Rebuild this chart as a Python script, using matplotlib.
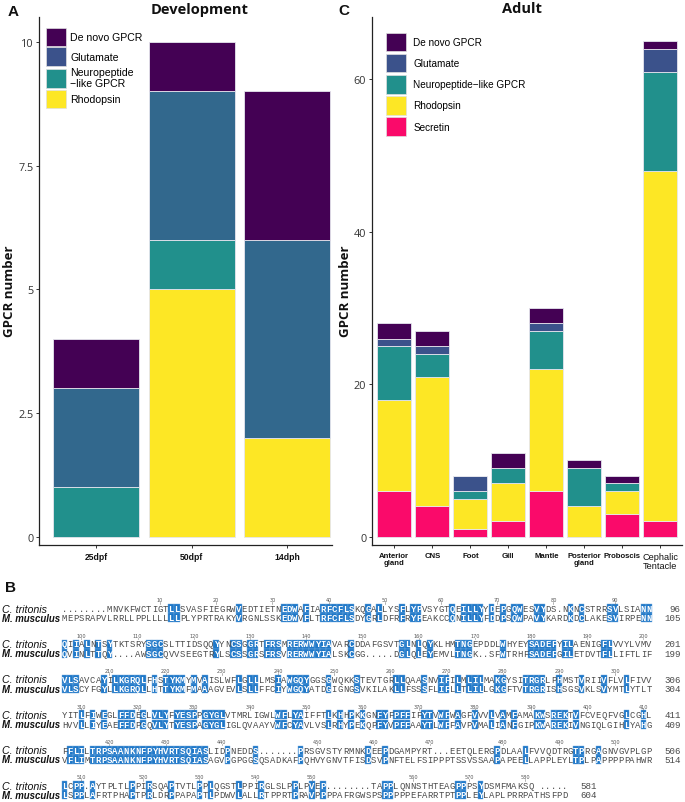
import matplotlib
matplotlib.use('Agg')
import matplotlib.pyplot as plt
from matplotlib.patches import Patch, Rectangle
import numpy as np

W, H, DPI = 685, 803, 100

# ---------------- Panel A data (Development) ----------------
dev_stages = ['25dpf', '50dpf', '14dph']
dev_rhodopsin = [0, 5, 2]
dev_neuropeptide = [1, 1, 0]
dev_glutamate = [2, 3, 4]
dev_denovo = [1, 1, 3]
dev_yticks = [0, 2.5, 5, 7.5, 10]
dev_yticklabels = ['0', '2.5', '5', '7.5', '10']
dev_legend = ['De novo GPCR', 'Glutamate', 'Neuropeptide\n\u2212like GPCR', 'Rhodopsin']

# ---------------- Panel C data (Adult) ----------------
tissues = ['Anterior\ngland', 'CNS', 'Foot', 'Gill', 'Mantle',
           'Posterior\ngland', 'Proboscis', 'Cephalic\nTentacle']
adult_secretin = [6, 4, 1, 2, 6, 0, 3, 2]
adult_rhodopsin = [12, 17, 4, 5, 16, 4, 3, 46]
adult_neuropeptide = [7, 3, 1, 2, 5, 5, 1, 13]
adult_glutamate = [1, 1, 2, 0, 1, 0, 0, 3]
adult_denovo = [2, 2, 0, 2, 2, 1, 1, 1]
adult_yticks = [0, 20, 40, 60]
adult_legend = ['De novo GPCR', 'Glutamate', 'Neuropeptide\u2212like GPCR', 'Rhodopsin', 'Secretin']

# ---------------- Panel B data (alignment) ----------------
species = ['C. tritonis', 'M. musculus']
ct_blocks = [
    "........MNVKFWCTIGTLLSVASFIEGRWVEDTIETNEDWAFIARFCFLSKQGALLYSFLYPVSYGTQEILLYYDEPGQWESVYDS.NKNCSTRRSVLSIANN",
    "QIIALNTSYTKTSRYSGCSLTTIDSQQYYNCSGGRTFRSMRERWWYIAVARCDDAFGSVTGLNLQYKLHMTNGEPDDLWHYEYSADEFYILAENIGFLVVYLVMV",
    "VLSAVCAYILKGRQLFHSTYKMYMVAISLWFLGLLLMSIAWGQYGGSGWQKKSTEVTGRLLQAASNVIFILMLILMAKGYSITRGRLPHMSTVRIIVFLVLFIVV",
    "YITLFIWEGLFFDEGLVLYFYESPPGYGLVTMRLIGWLWFLYAIFFTLKHHPKKGNFYFPFFIFYTVWFWAGFVVVLVAMFAMAKWSREKTVFCVEQFVGLCGHL",
    "FFLILTRPSAANKNFPYHVRTSQIASLIDPNEDDS.......PRSGVSTYRMNKDEEPDGAMPYRT...EETQLERGPDLAALFVVQDTRGTPRGAGNVGVPLGP",
    "LCPP.AYTPLTLPPIRSQAPTVTLPPLQGSTLPPIRGLSLPPLPVEP........TAPPLQNNSTHTEAGPPPSYDSMFMAKSQ .....",
]
mm_blocks = [
    "MEPSRAPVLRRLLPPLLLLLLPLYPRTRAKYVRGNLSSKEDWVFLTRFCFLSDYGRLDFRFRYPEAKCCQNILLYFDDPSQWPAVYKARDKDCLAKESVIRPENN",
    "QVINLTTQY....AWSGCQVVSEEGTRYLSCSSGRSFRSVRERWWYIALSKCGG.....DGLQLEYEMVLTNGK..SFWTRHFSADEFGILETDVTFLLIFTLIF",
    "VLSCYFGYLLKGRQLLHTTYKMFMAAAGVEVLSLLFFCIYWGQYATDGIGNGSVKILAKLLFSSSFLIFLLTLILLGKGFTVTRGRISHSGSVKLSVYMTLYTLT",
    "HVVLLIYEAEFFDPGQVLYTYESPAGYGLIGLQVAAYVWFCYAVLVSLRHYPEKQPFYVPFFAAYTLWFFAVPVMALIANFGIPKWAREKIVNGIQLGIHLYAHG",
    "VFLIMTRPSAANKNFPYHVRTSQIASAGVPGPGGSQSADKAFPQHVYGNVTFISDSVPNFTELFSIPPPTSSVSSAAPAPEELLAPPLEYLTPLPAPPPPPAHWR",
    "LSPPLAFRTPHAPTPRLDRPPAPAPTLPDWVLALLRTPPRTPRAVPPPPAFRGWSPSPPPPPEFARRTPTPPLEYLAPLPRRPATHSFPD",
]
ct_end = [96, 201, 306, 411, 506, 581]
mm_end = [105, 199, 304, 409, 514, 604]

# ---------------- styles ----------------
C_DENOVO = '#440154'
C_GLUT = '#3B528B'
C_GLUT_A = '#32688D'
C_NEURO = '#21908C'
C_RHOD = '#FDE725'
C_SECR = '#FA0A6A'
EDGE = '#E6E6EE'
TXT = '#333333'
HL = '#1F78C8'

fig = plt.figure(figsize=(W / DPI, H / DPI), dpi=DPI)
fig.patch.set_facecolor('white')


def px_rect(l, t, r, b):
    return [l / W, 1 - b / H, (r - l) / W, (b - t) / H]


def style_axes(ax):
    for s in ['top', 'right']:
        ax.spines[s].set_visible(False)
    for s in ['left', 'bottom']:
        ax.spines[s].set_linewidth(0.9)
        ax.spines[s].set_color('#222222')
    ax.tick_params(axis='both', length=2.5, width=0.7, color='#333333')
    ax.tick_params(axis='y', labelsize=7.8, labelcolor=TXT, pad=1.5)


def stacked(ax, x, layers, colors):
    bottom = np.zeros(len(x))
    for vals, col in zip(layers, colors):
        v = np.array(vals, dtype=float)
        ax.bar(x, v, width=0.9, bottom=bottom, color=col, edgecolor=EDGE, linewidth=0.6)
        bottom += v


# ---------------- Panel A ----------------
axA = fig.add_axes(px_rect(39.3, 18, 332, 545.7))
xa = np.arange(1, len(dev_stages) + 1)
stacked(axA, xa, [dev_rhodopsin, dev_neuropeptide, dev_glutamate, dev_denovo],
        [C_RHOD, C_NEURO, C_GLUT_A, C_DENOVO])
axA.set_xlim(0.404, 3.47)
axA.set_ylim(-0.16, 10.5)
axA.set_yticks(dev_yticks)
axA.set_yticklabels(dev_yticklabels, family='Open Sans')
axA.set_xticks(xa)
axA.set_xticklabels(dev_stages, fontsize=6.2, fontweight='bold', family='Liberation Sans', color='#111111')
style_axes(axA)
axA.tick_params(axis='x', pad=3)
handles_A = [Patch(facecolor=c, edgecolor='#E0E0E0', linewidth=0.5)
             for c in [C_DENOVO, C_GLUT, C_NEURO, C_RHOD]]
legA = fig.legend(handles_A, dev_legend, loc='upper left',
                  bbox_to_anchor=(46 / W, 1 - 29 / H), bbox_transform=fig.transFigure,
                  frameon=False, borderpad=0, borderaxespad=0,
                  prop={'family': 'Liberation Sans', 'size': 7.6},
                  handlelength=1.9, handleheight=2.3, handletextpad=0.4, labelspacing=0.1)

# ---------------- Panel C ----------------
axC = fig.add_axes(px_rect(371.7, 18, 682, 545.7))
xc = np.arange(1, len(tissues) + 1)
stacked(axC, xc, [adult_secretin, adult_rhodopsin, adult_neuropeptide, adult_glutamate, adult_denovo],
        [C_SECR, C_RHOD, C_NEURO, C_GLUT, C_DENOVO])
axC.set_xlim(0.405, 8.57)
axC.set_ylim(-1.05, 68.2)
axC.set_yticks(adult_yticks)
axC.set_yticklabels([str(t) for t in adult_yticks], family='Open Sans')
axC.set_xticks(xc)
labs = axC.set_xticklabels(tissues, fontsize=5.6, fontweight='bold', family='Liberation Sans',
                           color='#111111', linespacing=1.0, va='top')
labs[-1].set_fontweight('normal')
labs[-1].set_fontsize(6.6)
style_axes(axC)
axC.tick_params(axis='x', pad=2.5)
handles_C = [Patch(facecolor=c, edgecolor='#E0E0E0', linewidth=0.5)
             for c in [C_DENOVO, C_GLUT, C_NEURO, C_RHOD, C_SECR]]
legC = fig.legend(handles_C, adult_legend, loc='upper left',
                  bbox_to_anchor=(385.7 / W, 1 - 34 / H), bbox_transform=fig.transFigure,
                  frameon=False, borderpad=0, borderaxespad=0,
                  prop={'family': 'Liberation Sans', 'size': 7.2},
                  handlelength=2.0, handleheight=2.45, handletextpad=0.75, labelspacing=0.27)

# titles, labels, panel letters
fig.text(200 / W, 1 - 10 / H, 'Development', ha='center', va='center', fontsize=10.5,
         fontweight='bold', family='Open Sans', color='#111111')
fig.text(521.7 / W, 1 - 9 / H, 'Adult', ha='center', va='center', fontsize=10.5,
         fontweight='bold', family='Open Sans', color='#111111')
fig.text(10 / W, 1 - 291 / H, 'GPCR number', ha='center', va='center', rotation=90,
         fontsize=9.5, fontweight='bold', family='Open Sans', color='#111111')
fig.text(345 / W, 1 - 291 / H, 'GPCR number', ha='center', va='center', rotation=90,
         fontsize=9.5, fontweight='bold', family='Open Sans', color='#111111')
for letter, (lx, ly) in zip(['A', 'C', 'B'], [(13.5, 12.5), (344, 11), (11, 588)]):
    fig.text(lx / W, 1 - ly / H, letter, ha='center', va='center', fontsize=11,
             fontweight='bold', family='Liberation Sans', color='#111111')

# ---------------- Panel B ----------------
CW = 5.62          # column width in px
X0 = 61.7          # left edge of first column in px
axB = fig.add_axes(px_rect(0, 578, 685, 803))
axB.set_xlim(-X0 / CW, (W - X0) / CW)
axB.set_ylim(803, 578)
axB.axis('off')

ROW0, STEP, DROW = 609.6, 35.4, 9.3
BOXH = 9.0
prev = 0
for i, (ct, mm) in enumerate(zip(ct_blocks, mm_blocks)):
    y_ct = ROW0 + i * STEP
    y_mm = y_ct + DROW
    y_rule = y_ct - 8.6
    # species names
    axB.text(-(X0 - 2.3) / CW, y_ct, species[0], ha='left', va='center', fontsize=7.7,
             style='italic', family='Liberation Sans', color='#111111')
    axB.text(-(X0 - 1.7) / CW, y_mm, species[1], ha='left', va='center', fontsize=6.9,
             style='italic', fontweight='bold', family='Liberation Sans', color='#111111')
    count = prev
    for c in range(len(ct)):
        a = ct[c]
        b = mm[c] if c < len(mm) else ' '
        same = a == b and a.isalpha()
        if a.isalpha():
            count += 1
            if count % 10 == 0:
                axB.text(c + 0.5, y_rule, str(count), ha='center', va='center',
                         fontsize=3.6, color='#555555', family='DejaVu Sans')
                axB.plot([c + 0.5, c + 0.5], [y_rule + 2.2, y_rule + 3.8], color='#777777', lw=0.4)
        for ch, yy in [(a, y_ct), (b, y_mm)]:
            if same:
                axB.add_patch(Rectangle((c, yy - BOXH / 2), 1, BOXH, facecolor=HL,
                                        edgecolor='#6FA8DC', linewidth=0.3))
            if ch != ' ':
                axB.text(c + 0.5, yy, ch, ha='center', va='center', fontsize=6.4,
                         family='Liberation Mono', fontweight='bold' if same else 'normal',
                         color='white' if same else '#4a4a4a')
    prev = ct_end[i]
    xe = len(ct) + 29 / CW
    axB.text(xe, y_ct, str(ct_end[i]), ha='right', va='center', fontsize=6.6,
             family='Liberation Mono', color='#4a4a4a')
    axB.text(xe, y_mm, str(mm_end[i]), ha='right', va='center', fontsize=6.6,
             family='Liberation Mono', color='#4a4a4a')

fig.savefig('out.png', dpi=DPI, facecolor='white')
